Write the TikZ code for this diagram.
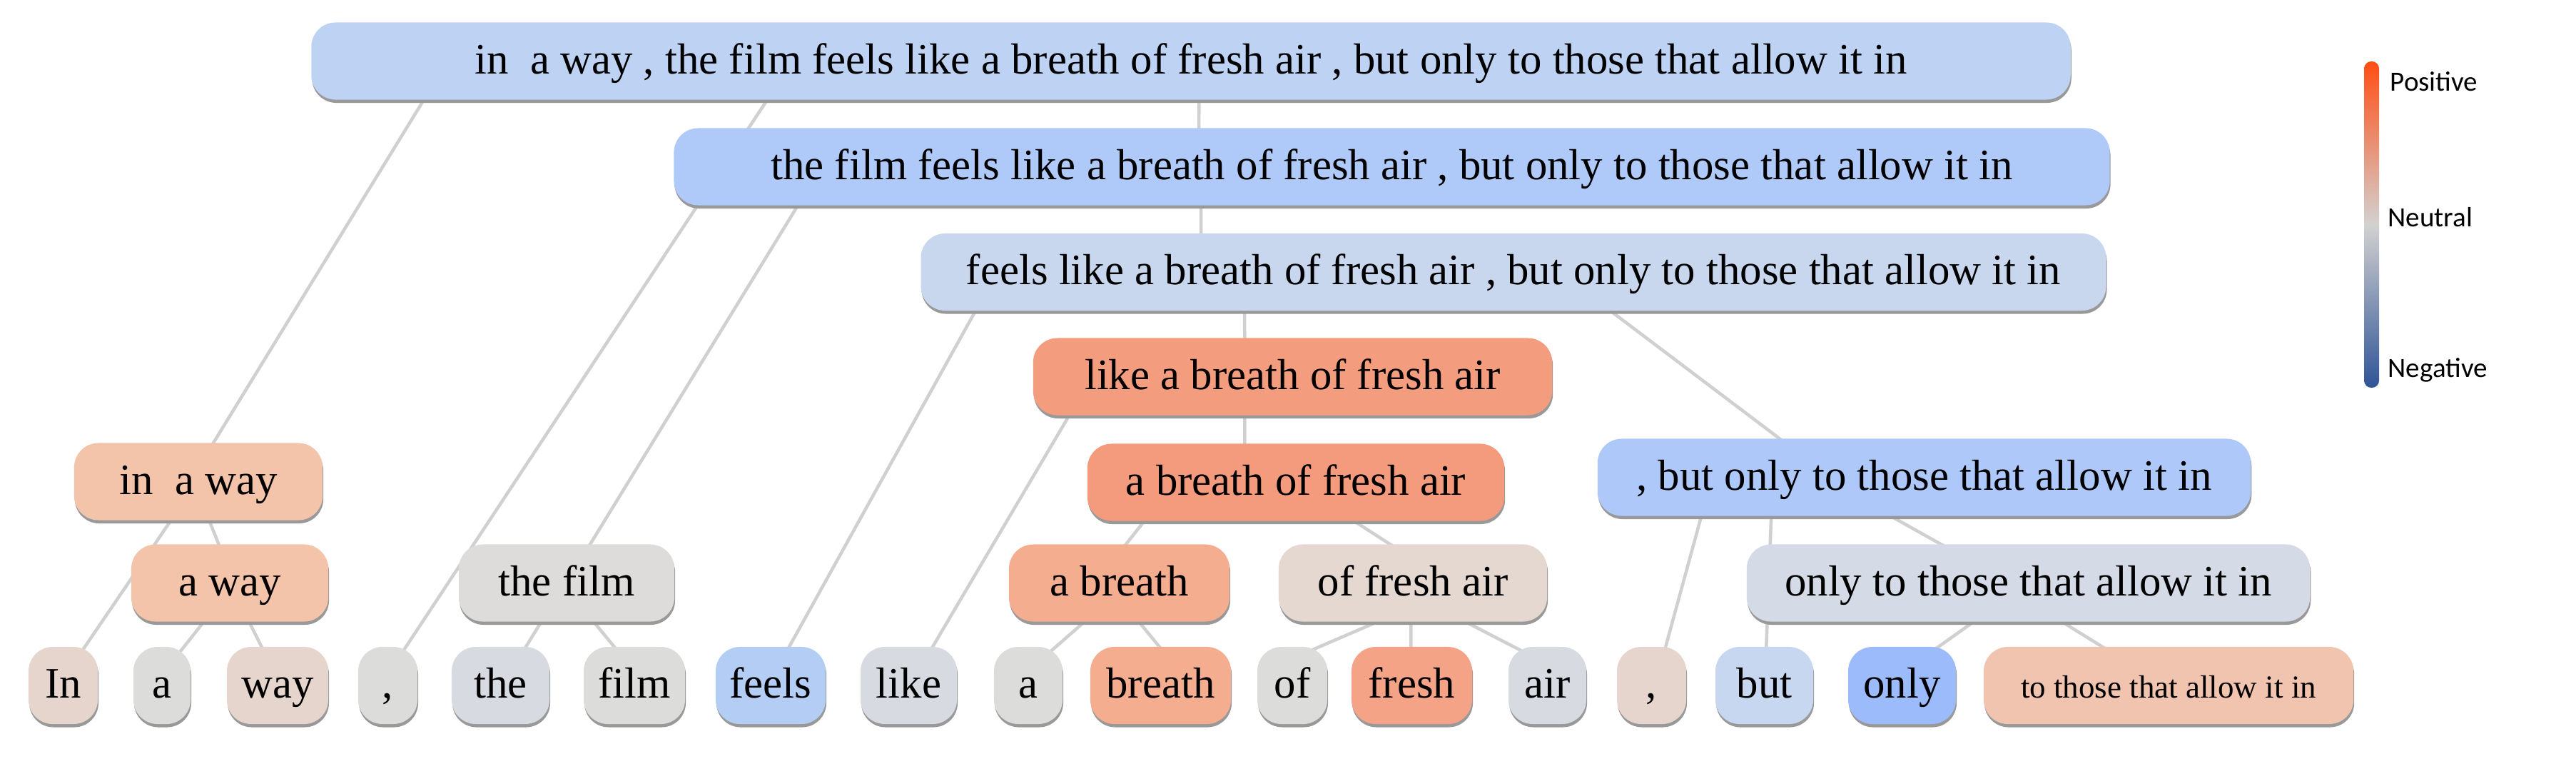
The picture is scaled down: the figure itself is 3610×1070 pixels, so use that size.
\documentclass[tikz,border=0pt]{standalone}
\usepackage{fontspec}
\setmainfont{Liberation Serif}
\newfontfamily\legendfont{Carlito}
\usetikzlibrary{shadows}
\pgfdeclarelayer{background}
\pgfsetlayers{background,main}

\definecolor{cRoot}{HTML}{BED3F3}
\definecolor{cFilmAll}{HTML}{AFC9F8}
\definecolor{cFeelsAll}{HTML}{C8D7EE}
\definecolor{cLikeAll}{HTML}{F49D7E}
\definecolor{cInAWay}{HTML}{F3C4AA}
\definecolor{cBreathAir}{HTML}{F39B7C}
\definecolor{cButAll}{HTML}{ADC8F9}
\definecolor{cAWay}{HTML}{F3C4AA}
\definecolor{cTheFilm}{HTML}{DDDCDA}
\definecolor{cABreath}{HTML}{F5AD90}
\definecolor{cOfFresh}{HTML}{E5D8D0}
\definecolor{cOnlyTo}{HTML}{D4DBE6}
\definecolor{cWarmGray}{HTML}{E6D5CC}
\definecolor{cGray}{HTML}{DCDCDB}
\definecolor{cCoolGray}{HTML}{D7DBE1}
\definecolor{cFeels}{HTML}{B4CDF5}
\definecolor{cFresh}{HTML}{F4A386}
\definecolor{cBut}{HTML}{C7D7EF}
\definecolor{cOnly}{HTML}{9BBBFA}
\definecolor{cToThose}{HTML}{F1C4AF}
\definecolor{linegray}{HTML}{D0D0D0}
\definecolor{posred}{HTML}{FF4E14}
\definecolor{neutralgray}{HTML}{D3D1D0}
\definecolor{negblue}{HTML}{2E5496}

\tikzset{
  box/.style={rounded corners=0.34cm, inner sep=0pt, minimum height=1.08cm,
    text height=0.45cm, text depth=0.1cm, font=\fontsize{17.3}{20}\selectfont,
    general shadow={fill=black!40, shadow xshift=0.01cm, shadow yshift=-0.045cm}},
  edge/.style={draw=linegray, line width=0.045cm, shorten <=-0.15cm, shorten >=-0.15cm},
  legend/.style={inner sep=0pt, anchor=base west, font=\legendfont\fontsize{11.1}{13}\selectfont}
}

\begin{document}
\begin{tikzpicture}[x=0.01cm, y=-0.01cm]
  %%%%% START %%%%%
  \useasboundingbox (0,0) rectangle (3610,1070);

  % phrases
  \node[box, fill=cRoot, minimum width=24.64cm] (root) at (1669,85.5) {in~~a way , the film feels like a breath of fresh air , but only to those that allow it in};
  \node[box, fill=cFilmAll, minimum width=20.11cm] (filmall) at (1950.5,233.5) {the film feels like a breath of fresh air , but only to those that allow it in};
  \node[box, fill=cFeelsAll, minimum width=16.60cm] (feelsall) at (2121,381) {feels like a breath of fresh air , but only to those that allow it in};
  \node[box, fill=cLikeAll, minimum width=7.27cm] (likeall) at (1811.5,527.5) {like a breath of fresh air};
  \node[box, fill=cInAWay, minimum width=3.48cm] (inaway) at (278,674.5) {in~~a way};
  \node[box, fill=cBreathAir, minimum width=5.84cm] (breathair) at (1816,675.5) {a breath of fresh air};
  \node[box, fill=cButAll, minimum width=9.15cm] (butall) at (2696.5,668.5) {, but only to those that allow it in};
  \node[box, fill=cAWay, minimum width=2.76cm] (away) at (322,816.5) {a way};
  \node[box, fill=cTheFilm, minimum width=3.02cm] (thefilm) at (794,816.5) {the film};
  \node[box, fill=cABreath, minimum width=3.09cm] (abreath) at (1568.5,816.5) {a breath};
  \node[box, fill=cOfFresh, minimum width=3.76cm] (offresh) at (1980,816.5) {of fresh air};
  \node[box, fill=cOnlyTo, minimum width=7.89cm] (onlyto) at (2842.5,816.5) {only to those that allow it in};

  % words
  \node[box, fill=cWarmGray, minimum width=0.97cm] (wIn) at (88.5,960) {In};
  \node[box, fill=cGray, minimum width=0.80cm] (wA) at (227,960) {a};
  \node[box, fill=cWarmGray, minimum width=1.42cm] (wWay) at (389,960) {way};
  \node[box, fill=cGray, minimum width=0.83cm] (wComma) at (543.5,960) {,};
  \node[box, fill=cCoolGray, minimum width=1.37cm] (wThe) at (701.5,960) {the};
  \node[box, fill=cGray, minimum width=1.42cm] (wFilm) at (889,960) {film};
  \node[box, fill=cFeels, minimum width=1.54cm] (wFeels) at (1080,960) {feels};
  \node[box, fill=cCoolGray, minimum width=1.35cm] (wLike) at (1273.5,960) {like};
  \node[box, fill=cGray, minimum width=0.96cm] (wAtwo) at (1441,960) {a};
  \node[box, fill=cABreath, minimum width=1.97cm] (wBreath) at (1626.5,960) {breath};
  \node[box, fill=cGray, minimum width=0.98cm] (wOf) at (1811,960) {of};
  \node[box, fill=cFresh, minimum width=1.69cm] (wFresh) at (1978.5,960) {fresh};
  \node[box, fill=cCoolGray, minimum width=1.09cm] (wAir) at (2168.5,960) {air};
  \node[box, fill=cWarmGray, minimum width=0.97cm] (wCommatwo) at (2314.5,960) {,};
  \node[box, fill=cBut, minimum width=1.37cm] (wBut) at (2472.5,960) {but};
  \node[box, fill=cOnly, minimum width=1.51cm] (wOnly) at (2665.5,960) {only};
  \node[box, fill=cToThose, minimum width=5.18cm, font=\fontsize{12.8}{15}\selectfont] (wToThose) at (3039,960) {to those that allow it in};

  % links
  \begin{pgfonlayer}{background}
    \draw[edge] ([xshift=1.58cm]root.south west) -- ([xshift=1.96cm]inaway.north west);
    \draw[edge] ([xshift=6.39cm]root.south west) -- ([xshift=0.68cm]wComma.north west);
    \draw[edge] ([xshift=12.44cm]root.south west) -- ([xshift=7.36cm]filmall.north west);
    \draw[edge] ([xshift=1.74cm]filmall.south west) -- ([xshift=1.85cm]thefilm.north west);
    \draw[edge] ([xshift=7.39cm]filmall.south west) -- ([xshift=3.93cm]feelsall.north west);
    \draw[edge] ([xshift=0.77cm]feelsall.south west) -- ([xshift=1.04cm]wFeels.north west);
    \draw[edge] ([xshift=4.54cm]feelsall.south west) -- ([xshift=2.97cm]likeall.north west);
    \draw[edge] ([xshift=9.67cm]feelsall.south west) -- ([xshift=2.55cm]butall.north west);
    \draw[edge] ([xshift=0.51cm]likeall.south west) -- ([xshift=1.02cm]wLike.north west);
    \draw[edge] ([xshift=2.97cm]likeall.south west) -- ([xshift=2.21cm]breathair.north west);
    \draw[edge] ([xshift=0.80cm]breathair.south west) -- ([xshift=1.65cm]abreath.north west);
    \draw[edge] ([xshift=3.75cm]breathair.south west) -- ([xshift=1.56cm]offresh.north west);
    \draw[edge] ([xshift=1.06cm]abreath.south west) -- ([xshift=0.88cm]wAtwo.north west);
    \draw[edge] ([xshift=1.83cm]abreath.south west) -- ([xshift=0.97cm]wBreath.north west);
    \draw[edge] ([xshift=1.38cm]offresh.south west) -- ([xshift=0.89cm]wOf.north west);
    \draw[edge] ([xshift=1.86cm]offresh.south west) -- ([xshift=0.84cm]wFresh.north west);
    \draw[edge] ([xshift=2.63cm]offresh.south west) -- ([xshift=0.07cm]wAir.north west);
    \draw[edge] ([xshift=1.46cm]butall.south west) -- ([xshift=0.69cm]wCommatwo.north west);
    \draw[edge] ([xshift=2.44cm]butall.south west) -- ([xshift=0.72cm]wBut.north west);
    \draw[edge] ([xshift=4.12cm]butall.south west) -- ([xshift=2.72cm]onlyto.north west);
    \draw[edge] ([xshift=3.18cm]onlyto.south west) -- ([xshift=1.28cm]wOnly.north west);
    \draw[edge] ([xshift=4.43cm]onlyto.south west) -- ([xshift=1.66cm]wToThose.north west);
    \draw[edge] ([xshift=1.36cm]inaway.south west) -- ([xshift=0.80cm]wIn.north west);
    \draw[edge] ([xshift=1.90cm]inaway.south west) -- ([xshift=1.23cm]away.north west);
    \draw[edge] ([xshift=1.02cm]away.south west) -- ([xshift=0.72cm]wA.north west);
    \draw[edge] ([xshift=1.66cm]away.south west) -- ([xshift=0.49cm]wWay.north west);
    \draw[edge] ([xshift=1.16cm]thefilm.south west) -- ([xshift=1.05cm]wThe.north west);
    \draw[edge] ([xshift=1.90cm]thefilm.south west) -- ([xshift=0.43cm]wFilm.north west);
  \end{pgfonlayer}

  % colour scale
  \shade[top color=posred, bottom color=negblue, middle color=neutralgray, rounded corners=0.1cm] (3313,86) rectangle (3334,543);
  \node[legend] (pos) at (3349,127) {Positive};
  \node[legend] (neu) at (3346,317) {Neutral};
  \node[legend] (neg) at (3346,528) {Negative};

  %%%%% END %%%%%
\end{tikzpicture}
\end{document}
